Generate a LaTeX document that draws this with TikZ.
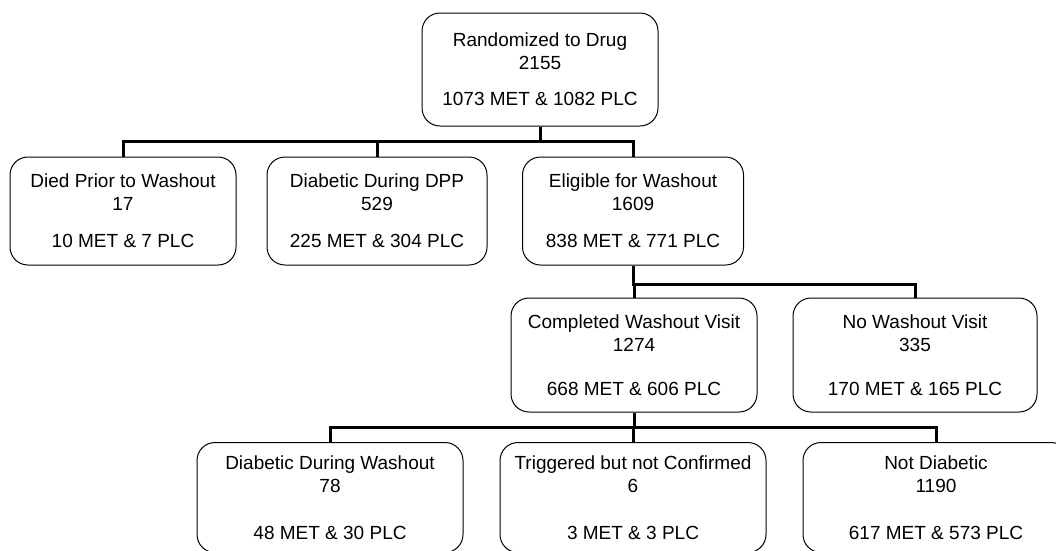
\documentclass[tikz,border=0pt]{standalone}
\usepackage{fontspec}
\setmainfont{Liberation Sans}

\begin{document}
\begin{tikzpicture}[x=1pt,y=-1pt,
  box/.style={draw,rounded corners=18pt,line width=1pt,align=center,inner sep=0pt,
    font=\fontsize{19}{23}\selectfont},
  link/.style={line width=3pt}]
  \clip (0,0) rectangle (1056,550);
  \node[box,minimum width=236pt,minimum height=113pt] (rand) at (540,69.5)
    {Randomized to Drug\\2155\\[13pt]1073 MET \& 1082 PLC};
  % second row
  \node[box,minimum width=226pt,minimum height=108pt] (died) at (123,211)
    {Died Prior to Washout\\17\\[14pt]10 MET \& 7 PLC};
  \node[box,minimum width=220pt,minimum height=108pt] (dpp) at (377,211)
    {Diabetic During DPP\\529\\[14pt]225 MET \& 304 PLC};
  \node[box,minimum width=221pt,minimum height=108pt] (elig) at (633,211)
    {Eligible for Washout\\1609\\[14pt]838 MET \& 771 PLC};
  % third row
  \node[box,minimum width=246pt,minimum height=114pt] (done) at (634,355)
    {Completed Washout Visit\\1274\\[21pt]668 MET \& 606 PLC};
  \node[box,minimum width=244pt,minimum height=114pt] (nowash) at (915,355)
    {No Washout Visit\\335\\[21pt]170 MET \& 165 PLC};
  % fourth row
  \node[box,minimum width=266pt,minimum height=110pt] (diab) at (330,497.5)
    {Diabetic During Washout\\78\\[24pt]48 MET \& 30 PLC};
  \node[box,minimum width=266pt,minimum height=110pt] (trig) at (633,497.5)
    {Triggered but not Confirmed\\6\\[24pt]3 MET \& 3 PLC};
  \node[box,minimum width=266pt,minimum height=110pt] (notdiab) at (936,497.5)
    {Not Diabetic\\1190\\[24pt]617 MET \& 573 PLC};

  \draw[link] (rand.south) -- ++(0,15) -| (died.north)
              (rand.south) -- ++(0,15) -| (dpp.north)
              (rand.south) -- ++(0,15) -| (elig.north);
  \draw[link] (elig.south) -- ++(0,19) -| (done.north)
              (elig.south) -- ++(0,19) -| (nowash.north);
  \draw[link] (done.south) -- ++(0,15) -| (diab.north)
              (done.south) -- ++(0,15) -| (trig.north)
              (done.south) -- ++(0,15) -| (notdiab.north);
\end{tikzpicture}
\end{document}
